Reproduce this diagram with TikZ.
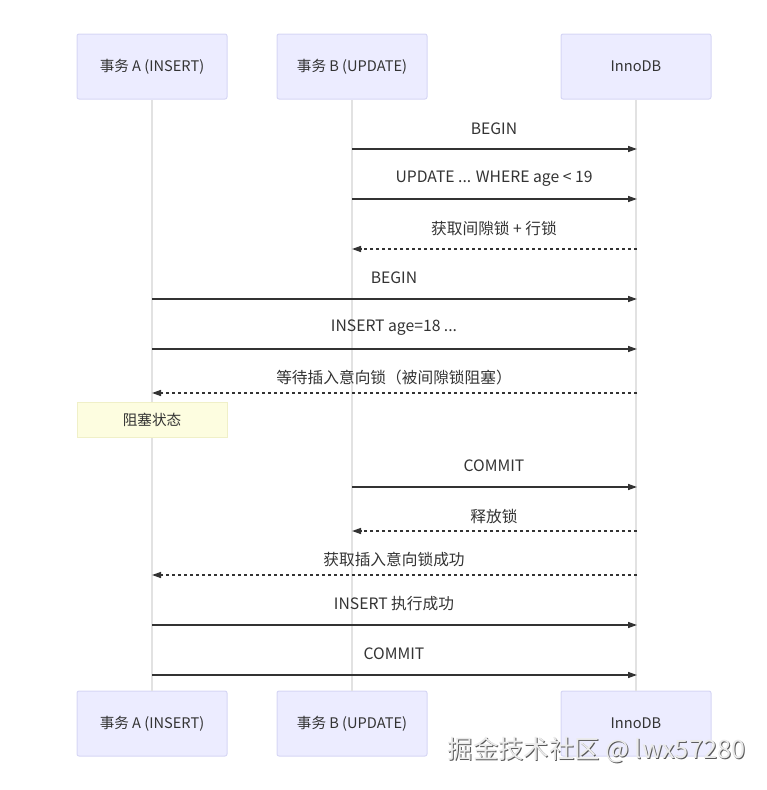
\documentclass[tikz,border=0pt]{standalone}
\usepackage{fontspec}
\setmainfont{Noto Sans CJK SC}
\usetikzlibrary{arrows.meta,shadows}
\definecolor{actfill}{HTML}{ECECFF}
\definecolor{actline}{HTML}{D6D6F5}
\definecolor{lifeline}{HTML}{E2E2E2}
\definecolor{msgline}{HTML}{333333}
\definecolor{notefill}{HTML}{FDFDE0}
\definecolor{noteline}{HTML}{F0F0C8}
\definecolor{txt}{HTML}{333333}
\tikzset{
  actor/.style={draw=actline, fill=actfill, rounded corners=2pt, line width=1pt,
    minimum width=150pt, minimum height=65pt, inner sep=0pt,
    font=\fontsize{14.6}{16}\selectfont, text=txt},
  life/.style={draw=lifeline, line width=1.2pt},
  msg/.style={draw=msgline, line width=1.4pt, -{Triangle[length=9pt,width=6pt]}},
  reply/.style={msg, dash pattern=on 3pt off 3pt},
  lbl/.style={font=\fontsize{15.7}{17}\selectfont, text=txt, inner sep=0pt},
  notebox/.style={draw=noteline, fill=notefill, line width=1pt,
    minimum width=150pt, minimum height=35pt, inner sep=0pt,
    font=\fontsize{14.6}{16}\selectfont, text=txt},
}
\begin{document}
\begin{tikzpicture}[x=1pt,y=-1pt]
\useasboundingbox (0,0) rectangle (766,790);
% actors
\node[actor] (At) at (152,66.5) {事务 A (INSERT)};
\node[actor] (Bt) at (352,66.5) {事务 B (UPDATE)};
\node[actor] (Dt) at (636,66.5) {InnoDB};
\node[actor] (Ab) at (152,723.5) {事务 A (INSERT)};
\node[actor] (Bb) at (352,723.5) {事务 B (UPDATE)};
\node[actor] (Db) at (636,723.5) {InnoDB};
% lifelines
\draw[life] (At) -- (Ab);
\draw[life] (Bt) -- (Bb);
\draw[life] (Dt) -- (Db);
% message end points
\foreach \n/\y in {1/149,2/199,3/249,4/299,5/349,6/393,8/487,9/531,10/575,11/625,12/675}{
  \coordinate (A\n) at (152,\y);
  \coordinate (B\n) at (352,\y);
  \coordinate (D\n) at (637,\y);
}
% messages
\node[lbl] (m1) at (494,129) {BEGIN};
\draw[msg] (B1) -- (D1);
\node[lbl] (m2) at (494,179) {UPDATE ... WHERE age < 19};
\draw[msg] (B2) -- (D2);
\node[lbl] (m3) at (494,229) {获取间隙锁 + 行锁};
\draw[reply] (D3) -- (B3);
\node[lbl] (m4) at (394,278) {BEGIN};
\draw[msg] (A4) -- (D4);
\node[lbl] (m5) at (394,328) {INSERT age=18 ...};
\draw[msg] (A5) -- (D5);
\node[lbl] (m6) at (394,378) {等待插入意向锁（被间隙锁阻塞）};
\draw[reply] (D6) -- (A6);
\node[notebox] (n7) at (152,419.5) {阻塞状态};
\node[lbl] (m8) at (494,466) {COMMIT};
\draw[msg] (B8) -- (D8);
\node[lbl] (m9) at (494,516) {释放锁};
\draw[reply] (D9) -- (B9);
\node[lbl] (m10) at (394,560) {获取插入意向锁成功};
\draw[reply] (D10) -- (A10);
\node[lbl] (m11) at (394,604) {INSERT 执行成功};
\draw[msg] (A11) -- (D11);
\node[lbl] (m12) at (394,654) {COMMIT};
\draw[msg] (A12) -- (D12);
% watermark
\node[font=\fontsize{25.3}{27}\selectfont, text=black!65, inner sep=0pt] (wms) at (597.5,751) {掘金技术社区 @ lwx57280};
\node[font=\fontsize{25.3}{27}\selectfont, text=white!92!black, inner sep=0pt] (wm) at (596.5,750) {掘金技术社区 @ lwx57280};
\end{tikzpicture}
\end{document}
